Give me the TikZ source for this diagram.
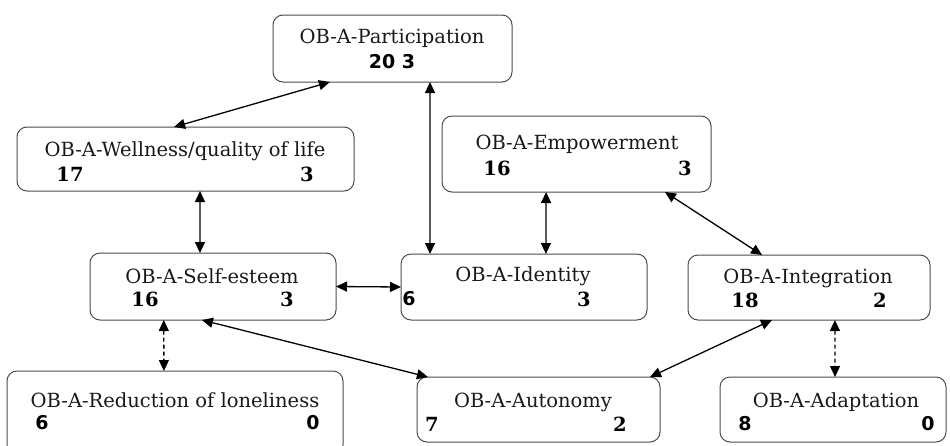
\documentclass[tikz,border=0pt]{standalone}
\usepackage{fontspec}
\setmainfont{DejaVu Serif}
\newfontfamily\numsans{DejaVu Sans}
\usetikzlibrary{arrows.meta,calc}
\tikzset{
  box/.style={draw=black!70, line width=1pt, rounded corners=10pt, fill=white, inner sep=0pt, outer sep=0pt},
  ttl/.style={font=\fontsize{19.5}{22}\selectfont, text=black!90, inner sep=0pt},
  nums/.style={font=\fontsize{19.5}{22}\selectfont\bfseries, text=black, inner sep=0pt},
  numsans/.style={font=\fontsize{19}{22}\selectfont\numsans\bfseries, text=black, inner sep=0pt},
  link/.style={line width=1.3pt, {Triangle[length=11pt,width=10pt]}-{Triangle[length=11pt,width=10pt]}},
  dlink/.style={link, dash pattern=on 4pt off 3pt},
}
\newcommand{\bpt}[3]{($(#1.#2 west)!#3!(#1.#2 east)$)}
\begin{document}
\begin{tikzpicture}[x=1pt,y=-1pt]
\useasboundingbox (0,0) rectangle (950,445);
% boxes
\node[box, minimum width=239pt, minimum height=67pt] (part) at (392.5,48.5) {};
\node[box, minimum width=337pt, minimum height=64pt] (well) at (185.5,159) {};
\node[box, minimum width=269pt, minimum height=76pt] (emp) at (576.5,154) {};
\node[box, minimum width=246pt, minimum height=67pt] (self) at (213,286.5) {};
\node[box, minimum width=246pt, minimum height=66pt] (ident) at (524,287) {};
\node[box, minimum width=242pt, minimum height=65pt] (integ) at (809,287.5) {};
\node[box, minimum width=336pt, minimum height=84pt] (red) at (175,413) {};
\node[box, minimum width=243pt, minimum height=65pt] (auton) at (538.5,409.5) {};
\node[box, minimum width=226pt, minimum height=65pt] (adapt) at (833,409.5) {};
% texts
\node[ttl] (partT) at (392,38) {OB-A-Participation};
\node[numsans] (partN) at (392,62) {20 3};
\node[ttl] (wellT) at (185,151) {OB-A-Wellness/quality of life};
\node[nums] (wellA) at (70,174) {17};
\node[nums] (wellB) at (307,174) {3};
\node[ttl] (empT) at (577,144) {OB-A-Empowerment};
\node[nums] (empA) at (497,168) {16};
\node[nums] (empB) at (685,168) {3};
\node[ttl] (selfT) at (212,276) {OB-A-Self-esteem};
\node[nums] (selfA) at (145,299) {16};
\node[nums] (selfB) at (287,299) {3};
\node[ttl] (identT) at (523,276) {OB-A-Identity};
\node[numsans] (identA) at (409,299) {6};
\node[nums] (identB) at (584,299) {3};
\node[ttl] (integT) at (808,278) {OB-A-Integration};
\node[nums] (integA) at (745,300) {18};
\node[nums] (integB) at (880,300) {2};
\node[ttl] (redT) at (175,400) {OB-A-Reduction of loneliness};
\node[numsans] (redA) at (42,423) {6};
\node[numsans] (redB) at (313,423) {0};
\node[ttl] (autonT) at (533,402) {OB-A-Autonomy};
\node[nums] (autonA) at (432,424) {7};
\node[nums] (autonB) at (620,424) {2};
\node[ttl] (adaptT) at (836,402) {OB-A-Adaptation};
\node[numsans] (adaptA) at (745,424) {8};
\node[numsans] (adaptB) at (928,424) {0};
% connectors
\draw[link] \bpt{part}{south}{0.238} -- \bpt{well}{north}{0.466};
\draw[link] \bpt{part}{south}{0.657} -- \bpt{ident}{north}{0.118};
\draw[link] \bpt{well}{south}{0.543} -- \bpt{self}{north}{0.447};
\draw[link] \bpt{emp}{south}{0.387} -- \bpt{ident}{north}{0.589};
\draw[link] \bpt{emp}{south}{0.829} -- \bpt{integ}{north}{0.306};
\draw[link] (self.east) -- (ident.west);
\draw[link] \bpt{self}{south}{0.455} -- \bpt{auton}{north}{0.045};
\draw[link] \bpt{integ}{south}{0.347} -- \bpt{auton}{north}{0.959};
\draw[dlink] \bpt{self}{south}{0.30} -- \bpt{red}{north}{0.467};
\draw[dlink] \bpt{integ}{south}{0.607} -- \bpt{adapt}{north}{0.509};
\end{tikzpicture}
\end{document}
